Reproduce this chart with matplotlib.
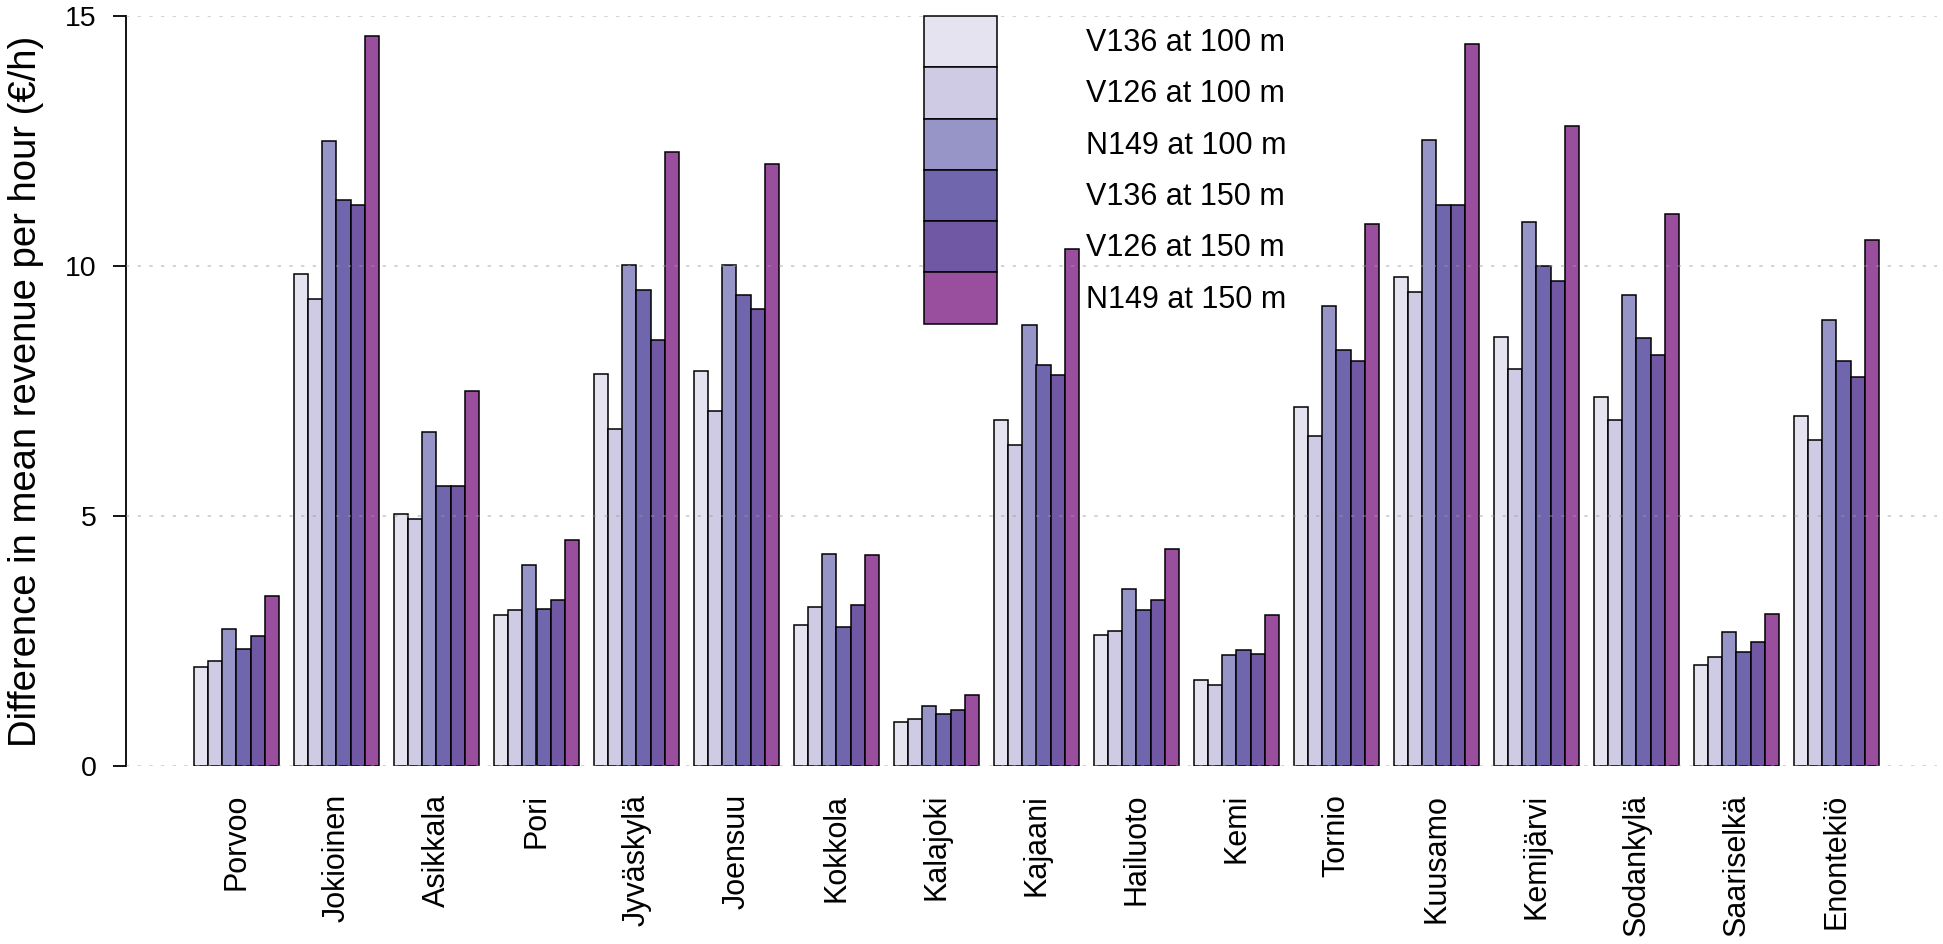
import numpy as np
import matplotlib
matplotlib.use("Agg")
import matplotlib.pyplot as plt

plt.rcParams['font.family'] = ['Liberation Sans', 'DejaVu Sans']

# Data
sites = ["Porvoo", "Jokioinen", "Asikkala", "Pori", "Jyväskylä", "Joensuu",
         "Kokkola", "Kalajoki", "Kajaani", "Hailuoto", "Kemi", "Tornio",
         "Kuusamo", "Kemijärvi", "Sodankylä", "Saariselkä", "Enontekiö"]
series_names = ["V136 at 100 m", "V126 at 100 m", "N149 at 100 m",
                "V136 at 150 m", "V126 at 150 m", "N149 at 150 m"]

v136_100 = [1.98, 9.85, 5.05, 3.02, 7.85, 7.90, 2.82, 0.88, 6.92, 2.62, 1.72, 7.18, 9.78, 8.58, 7.38, 2.02, 7.00]
v126_100 = [2.10, 9.35, 4.95, 3.12, 6.75, 7.10, 3.18, 0.95, 6.42, 2.70, 1.62, 6.60, 9.48, 7.95, 6.92, 2.18, 6.52]
n149_100 = [2.75, 12.50, 6.68, 4.02, 10.02, 10.02, 4.25, 1.20, 8.82, 3.55, 2.22, 9.20, 12.52, 10.88, 9.42, 2.68, 8.92]
v136_150 = [2.35, 11.33, 5.60, 3.15, 9.52, 9.42, 2.78, 1.05, 8.02, 3.12, 2.32, 8.32, 11.22, 10.00, 8.55, 2.28, 8.10]
v126_150 = [2.60, 11.22, 5.60, 3.32, 8.52, 9.15, 3.22, 1.12, 7.82, 3.32, 2.25, 8.10, 11.22, 9.70, 8.22, 2.48, 7.78]
n149_150 = [3.40, 14.60, 7.50, 4.52, 12.28, 12.05, 4.22, 1.42, 10.35, 4.35, 3.02, 10.85, 14.45, 12.80, 11.05, 3.05, 10.52]

all_series = [v136_100, v126_100, n149_100, v136_150, v126_150, n149_150]
colors = ["#E6E3F1", "#CFCBE5", "#9794C8", "#6F66AD", "#7058A5", "#9A4F9E"]

fig = plt.figure(figsize=(19.43, 9.44), dpi=100)
ax = fig.add_axes([126 / 1943, 1 - 766 / 944, (1937 - 126) / 1943, (766 - 16) / 944])

x = np.arange(len(sites))
bw = 0.85 / 6
for i, (vals, col, name) in enumerate(zip(all_series, colors, series_names)):
    ax.bar(x - 0.425 + bw * (i + 0.5), vals, width=bw, color=col,
           edgecolor="black", linewidth=1.1, label=name, zorder=2)

# dotted grid drawn over bars, faint
for yv in [0, 5, 10, 15]:
    ax.axhline(yv, color="#9a9a9a", linestyle=(0, (2, 5)), linewidth=1.2,
               alpha=0.5, zorder=3)

ax.set_xlim(-1.105, 17.005)
ax.set_ylim(0, 15)
ax.set_yticks([0, 5, 10, 15])
ax.set_xticks(x)
ax.set_xticklabels(sites, rotation=90, fontsize=22)
ax.tick_params(axis="x", length=0, pad=20)
ax.tick_params(axis="y", labelsize=20.5, length=9.5, width=1.3, pad=11.5)

for s in ["top", "right", "bottom"]:
    ax.spines[s].set_visible(False)
ax.spines["left"].set_linewidth(1.3)

ax.set_ylabel("Difference in mean revenue per hour (€/h)", fontsize=27.5)
ax.yaxis.set_label_coords(-0.0453, 0.5)

fs = 22
em = fs * 100 / 72
fig.legend(loc="upper left", bbox_to_anchor=(924 / 1943, 1 - 16 / 944),
           frameon=False, fontsize=fs, borderpad=0, borderaxespad=0,
           handlelength=73 / em, handleheight=2.206, labelspacing=0,
           handletextpad=89 / em)

fig.savefig("out.png", dpi=100)
